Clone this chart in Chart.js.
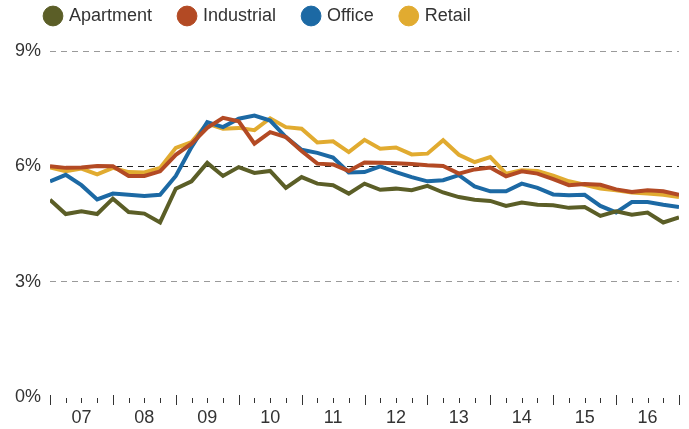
<!DOCTYPE html>
<html>
<head>
<meta charset="utf-8">
<script src="https://cdn.jsdelivr.net/npm/chart.js@4/dist/chart.umd.min.js"></script>
<style>
  html, body { margin: 0; padding: 0; background: #fff; }
  #wrap { width: 689px; height: 429px; }
</style>
</head>
<body>
<div id="wrap"><canvas id="capChart" width="689" height="429"></canvas></div>
<script>
// Quarterly cap rates, end of 2006 through end of 2016 (41 points)
var yearLabels = ['07', '08', '09', '10', '11', '12', '13', '14', '15', '16'];
var yTicks = [0, 3, 6, 9];

var apartment = [5.13, 4.76, 4.83, 4.76, 5.16, 4.81, 4.77, 4.54, 5.42, 5.61,
                 6.09, 5.75, 5.98, 5.83, 5.88, 5.44, 5.72, 5.55, 5.51, 5.29,
                 5.55, 5.39, 5.42, 5.38, 5.49, 5.32, 5.20, 5.13, 5.10, 4.97,
                 5.06, 5.00, 4.99, 4.92, 4.94, 4.71, 4.83, 4.74, 4.80, 4.54, 4.67];
var industrial = [6.00, 5.96, 5.97, 6.01, 6.00, 5.75, 5.75, 5.87, 6.30, 6.59,
                  7.00, 7.26, 7.17, 6.59, 6.89, 6.76, 6.40, 6.07, 6.05, 5.88,
                  6.10, 6.09, 6.08, 6.06, 6.03, 6.01, 5.81, 5.92, 5.97, 5.74,
                  5.87, 5.81, 5.67, 5.51, 5.54, 5.52, 5.40, 5.33, 5.38, 5.35, 5.26];
var office = [5.61, 5.78, 5.51, 5.14, 5.29, 5.26, 5.23, 5.26, 5.75, 6.50,
              7.15, 7.02, 7.24, 7.32, 7.19, 6.76, 6.43, 6.35, 6.23, 5.84,
              5.85, 6.00, 5.85, 5.72, 5.61, 5.64, 5.77, 5.48, 5.35, 5.35,
              5.55, 5.44, 5.27, 5.25, 5.26, 4.97, 4.80, 5.07, 5.07, 5.00, 4.94];
var retail = [5.97, 5.87, 5.94, 5.79, 5.96, 5.85, 5.84, 5.96, 6.48, 6.63,
              7.11, 6.98, 7.00, 6.94, 7.25, 7.02, 6.98, 6.62, 6.65, 6.37,
              6.69, 6.46, 6.49, 6.31, 6.33, 6.68, 6.30, 6.11, 6.24, 5.81,
              5.90, 5.88, 5.76, 5.61, 5.52, 5.42, 5.38, 5.32, 5.29, 5.26, 5.20];

var quarterIdx = apartment.map(function(v, i) { return i; });

function toPoints(arr) {
    return arr.map(function(v, i) { return { x: quarterIdx[i], y: v }; });
}

var FONT = 'Liberation Sans, Arial, sans-serif';

// quarter tick marks under the plot, longer at year boundaries
var quarterTicks = {
    id: 'quarterTicks',
    afterLayout: function(chart) {
        // nudge the legend up and right
        if (chart.legend) {
            chart.legend.top -= 16;
            chart.legend.bottom -= 16;
            chart.legend.left += 18;
            chart.legend.right += 18;
        }
    },
    afterDraw: function(chart) {
        var ctx = chart.ctx;
        var xs = chart.scales.x;
        var ys = chart.scales.y;
        var base = ys.getPixelForValue(0);
        ctx.save();
        ctx.strokeStyle = '#333';
        ctx.lineWidth = 1;
        for (var i = 0; i <= quarterIdx.length - 1; i++) {
            var px = Math.round(xs.getPixelForValue(i)) + 0.5;
            ctx.beginPath();
            if (i % 4 === 0) {
                ctx.moveTo(px, base - 2);
                ctx.lineTo(px, base + 8);
            } else {
                ctx.moveTo(px, base + 1);
                ctx.lineTo(px, base + 6);
            }
            ctx.stroke();
        }
        ctx.restore();
    }
};

var ctx = document.getElementById('capChart').getContext('2d');

new Chart(ctx, {
    type: 'line',
    data: {
        datasets: [
            { label: 'Apartment', data: toPoints(apartment), borderColor: '#5b5e27', backgroundColor: '#5b5e27' },
            { label: 'Industrial', data: toPoints(industrial), borderColor: '#b34a24', backgroundColor: '#b34a24' },
            { label: 'Office', data: toPoints(office), borderColor: '#1c69a4', backgroundColor: '#1c69a4' },
            { label: 'Retail', data: toPoints(retail), borderColor: '#e1ab30', backgroundColor: '#e1ab30' }
        ]
    },
    options: {
        responsive: false,
        animation: false,
        layout: {
            padding: { left: 0, right: 8, top: -5, bottom: 0 }
        },
        elements: {
            line: { borderWidth: 4, tension: 0, borderJoinStyle: 'miter' },
            point: { radius: 0, hoverRadius: 0 }
        },
        scales: {
            x: {
                type: 'linear',
                min: 0,
                max: quarterIdx.length - 1,
                grid: { display: false, drawTicks: false },
                border: { display: false },
                ticks: {
                    stepSize: 1,
                    autoSkip: false,
                    maxRotation: 0,
                    padding: 10,
                    color: '#333',
                    font: { family: FONT, size: 18 },
                    callback: function(value) {
                        if (value % 4 === 2) {
                            return yearLabels[(value - 2) / 4];
                        }
                        return '';
                    }
                },
                afterFit: function(scale) { scale.height = 32; }
            },
            y: {
                min: 0,
                max: 9,
                afterBuildTicks: function(scale) {
                    scale.ticks = yTicks.map(function(v) { return { value: v }; });
                },
                grid: {
                    drawTicks: false,
                    color: function(c) {
                        if (c.tick.value === 0) return 'rgba(0,0,0,0)';
                        return c.tick.value === 6 ? '#222' : '#9a9a9a';
                    },
                    lineWidth: 1
                },
                border: { display: false, dash: [6, 5] },
                ticks: {
                    padding: 9,
                    color: '#333',
                    font: { family: FONT, size: 18 },
                    callback: function(value) { return value + '%'; }
                },
                afterFit: function(scale) { scale.width = 50; }
            }
        },
        plugins: {
            legend: {
                display: true,
                position: 'top',
                align: 'start',
                labels: {
                    usePointStyle: true,
                    pointStyle: 'circle',
                    boxWidth: 14,
                    boxHeight: 14,
                    padding: 28,
                    color: '#333',
                    font: { family: FONT, size: 18 }
                }
            },
            tooltip: { enabled: false }
        }
    },
    plugins: [quarterTicks]
});
</script>
</body>
</html>
